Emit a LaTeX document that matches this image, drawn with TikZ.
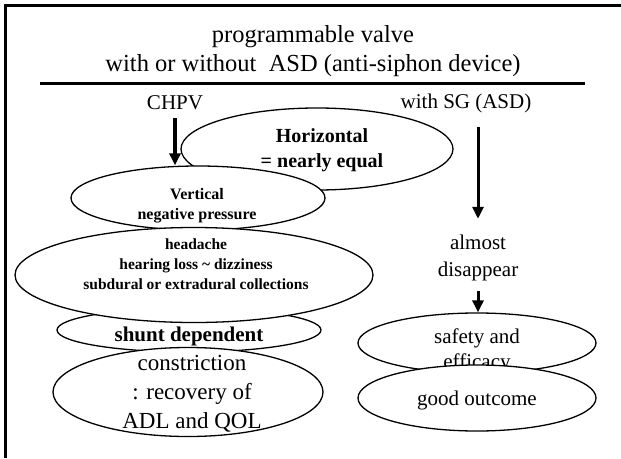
\documentclass[tikz,border=0pt]{standalone}
\usepackage{fontspec}
\setmainfont{Liberation Serif}
\usetikzlibrary{shapes.geometric,arrows.meta}
\begin{document}
\begin{tikzpicture}[x=1pt,y=-1pt,
  oval/.style={ellipse,draw,fill=white,line width=1.3pt,inner sep=0pt},
  txt/.style={align=center,inner sep=0pt},
  down/.style={line width=3.5pt,-{Triangle[width=11pt,length=12pt]}},
  fs/.style n args={2}{font=\fontsize{#1}{#2}\selectfont},
  bfs/.style n args={2}{font=\fontsize{#1}{#2}\selectfont\bfseries}]
\useasboundingbox (0,0) rectangle (621,458);
% frame: top and left edges only
\draw[line width=3pt] (5,458) -- (5,5) -- (621,5);

% heading and rule
\node[txt,fs={24.5}{29}] (title) at (313,51) {programmable valve\\with or without\ \ ASD (anti-siphon device)};
\coordinate (ruleL) at (40,83);
\coordinate (ruleR) at (585,83);
\draw[line width=3pt] (ruleL) -- (ruleR);

% column heads
\node[txt,fs={21}{25}] (chpv) at (175,103) {CHPV};
\node[txt,fs={21}{25}] (sg) at (466,103) {with SG (ASD)};

% left column
\node[oval,minimum width=272pt,minimum height=82pt] (horiz) at (317,149) {};
\node[txt,bfs={20}{25}] (horiztxt) at (322,150) {Horizontal\\= nearly equal};

\node[oval,minimum width=254pt,minimum height=64pt] (vert) at (198,198) {};
\node[txt,bfs={16}{20}] (verttxt) at (197,206) {Vertical\\negative pressure};

\node[oval,minimum width=264pt,minimum height=44pt] (shunt) at (189,330) {};
\node[txt,bfs={21}{25}] (shunttxt) at (189,336) {shunt dependent};

\node[oval,minimum width=358pt,minimum height=95pt] (head) at (194,275) {};
\node[txt,bfs={15.5}{20}] (headtxt) at (196,264) {headache\\hearing loss \char`\~\ dizziness\\subdural or extradural collections};

\node[oval,minimum width=270pt,minimum height=89pt] (constr) at (188,392) {};
\node[txt,fs={23}{29}] (constrtxt) at (192,394) {constriction\\: recovery of\\ADL and QOL};

% right column
\node[txt,fs={21}{27}] (almost) at (478,258) {almost\\disappear};

\node[oval,minimum width=238pt,minimum height=60pt] (safety) at (477,343) {};
\node[txt,fs={21}{25}] (safetytxt) at (477,351) {safety and\\efficacy};

\node[oval,minimum width=238pt,minimum height=66pt] (good) at (477,398) {};
\node[txt,fs={21}{25}] (goodtxt) at (477,400) {good outcome};

% arrows
\draw[down,shorten <=8pt] (chpv.south) -- (chpv.south |- vert.north);
\draw[down,line width=3pt,shorten <=14pt,shorten >=16pt] (almost |- sg.south) -- (almost.north);
\draw[down,line width=3pt,shorten <=10pt] (almost.south) -- (almost |- safety.north);
\end{tikzpicture}
\end{document}
